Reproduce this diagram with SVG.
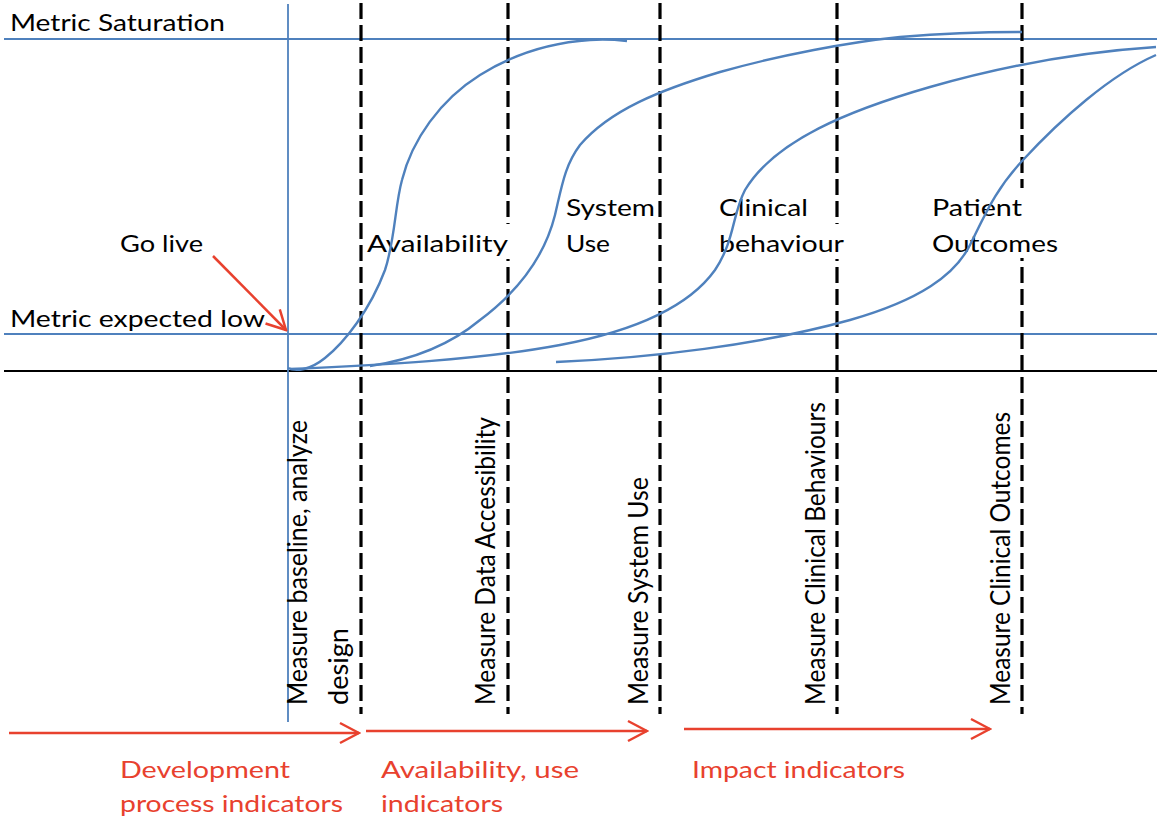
<svg xmlns="http://www.w3.org/2000/svg" width="1157" height="821" viewBox="0 0 1157 821">
  <style>
    .blue { stroke: #4F81BD; fill: none; stroke-width: 2.4; }
    .hline { stroke: #4F81BD; fill: none; stroke-width: 1.8; }
    .dash { stroke: #000; stroke-width: 3.2; stroke-dasharray: 16 6; fill: none; }
    .red { stroke: #E8412E; stroke-width: 2.5; fill: none; }
    .t { font-family: Lato, "Open Sans", "Liberation Sans", sans-serif; font-size: 24px; fill: #000; }
    .v { font-family: Lato, "Open Sans", "Liberation Sans", sans-serif; font-size: 27px; fill: #000; }
    .rt { font-family: Lato, "Open Sans", "Liberation Sans", sans-serif; font-size: 24px; fill: #E8412E; }
  </style>
  <defs>
    <marker id="arr" markerUnits="userSpaceOnUse" viewBox="-22 -12 24 24" refX="0" refY="0" markerWidth="24" markerHeight="24" orient="auto">
      <path d="M-19,-10 L0,0 L-19,10" fill="none" stroke="#E8412E" stroke-width="2.5"/>
    </marker>
  </defs>
  <rect width="1157" height="821" fill="#fff"/>

  <g id="axes">
    <line class="hline" x1="4" y1="39" x2="1157" y2="39"/>
    <line class="hline" x1="4" y1="334" x2="1157" y2="334"/>
    <line x1="4" y1="371" x2="1157" y2="371" stroke="#000" stroke-width="2.2"/>
    <line class="hline" x1="288" y1="4" x2="288" y2="722"/>
  </g>

  <g id="phase-lines">
    <line class="dash" x1="361" y1="3" x2="361" y2="714"/>
    <line class="dash" x1="508" y1="3" x2="508" y2="714"/>
    <line class="dash" x1="660" y1="3" x2="660" y2="714"/>
    <line class="dash" x1="837" y1="3" x2="837" y2="714"/>
    <line class="dash" x1="1022" y1="3" x2="1022" y2="714"/>
  </g>

  <g id="label-metric-saturation"><text class="t" x="10" y="31" textLength="215" lengthAdjust="spacingAndGlyphs">Metric Saturation</text></g>
  <g id="label-go-live"><text class="t" x="120" y="252" textLength="83" lengthAdjust="spacingAndGlyphs">Go live</text></g>
  <g id="label-metric-low"><text class="t" x="10" y="327" textLength="255" lengthAdjust="spacingAndGlyphs">Metric expected low</text></g>

  <g id="label-availability">
    <rect x="363" y="224" width="148" height="35" fill="#fff"/>
    <text class="t" x="367" y="252" textLength="141" lengthAdjust="spacingAndGlyphs">Availability</text>
  </g>
  <g id="label-system-use">
    <text class="t" x="566" y="216" textLength="89" lengthAdjust="spacingAndGlyphs">System</text>
    <text class="t" x="566" y="252" textLength="44" lengthAdjust="spacingAndGlyphs">Use</text>
  </g>
  <g id="label-clinical">
    <rect x="714" y="224" width="128" height="35" fill="#fff"/>
    <text class="t" x="719" y="216" textLength="89" lengthAdjust="spacingAndGlyphs">Clinical</text>
    <text class="t" x="719" y="252" textLength="125" lengthAdjust="spacingAndGlyphs">behaviour</text>
  </g>
  <g id="label-patient">
    <rect x="928" y="188" width="100" height="70" fill="#fff"/>
    <text class="t" x="932" y="216" textLength="90" lengthAdjust="spacingAndGlyphs">Patient</text>
    <text class="t" x="932" y="252" textLength="126" lengthAdjust="spacingAndGlyphs">Outcomes</text>
  </g>

  <g id="curves">
    <path class="blue" d="M288,368 C296,372 310,370 325,358 C345,342 370,310 385,270 C395,240 395,205 402,180 C412,140 440,100 480,75 C520,50 560,42 590,40 C605,39 618,40 627,41"/>
    <path class="blue" d="M370,366 C410,360 450,345 480,320 C520,290 545,255 555,215 C562,185 565,165 580,145 C610,110 660,90 720,72 C780,55 850,42 900,37 C950,33 990,32 1022,32"/>
    <path class="blue" d="M290,369 C380,365 480,360 560,345 C640,330 690,305 715,270 C735,240 732,215 745,190 C775,140 850,110 930,87 C1000,67 1080,52 1156,47"/>
    <path class="blue" d="M556,362 C650,358 760,345 850,320 C920,300 955,275 970,245 C985,215 995,190 1023,160 C1060,120 1110,75 1156,55"/>
  </g>

  <g id="measure-baseline">
    <text class="v" transform="translate(307,705) rotate(-90)" textLength="285" lengthAdjust="spacingAndGlyphs">Measure baseline, analyze</text>
    <text class="v" transform="translate(348,705) rotate(-90)" textLength="77" lengthAdjust="spacingAndGlyphs">design</text>
  </g>
  <g id="measure-data"><text class="v" transform="translate(495,705) rotate(-90)" textLength="288" lengthAdjust="spacingAndGlyphs">Measure Data Accessibility</text></g>
  <g id="measure-system"><text class="v" transform="translate(648,705) rotate(-90)" textLength="228" lengthAdjust="spacingAndGlyphs">Measure System Use</text></g>
  <g id="measure-behaviours"><text class="v" transform="translate(825,705) rotate(-90)" textLength="303" lengthAdjust="spacingAndGlyphs">Measure Clinical Behaviours</text></g>
  <g id="measure-outcomes"><text class="v" transform="translate(1010,705) rotate(-90)" textLength="293" lengthAdjust="spacingAndGlyphs">Measure Clinical Outcomes</text></g>

  <g id="connectors">
    <line class="red" x1="213" y1="256" x2="286" y2="330" marker-end="url(#arr)"/>
    <line class="red" x1="9" y1="733" x2="359" y2="733" marker-end="url(#arr)"/>
    <line class="red" x1="366" y1="731" x2="647" y2="731" marker-end="url(#arr)"/>
    <line class="red" x1="684" y1="729" x2="990" y2="729" marker-end="url(#arr)"/>
  </g>

  <g id="label-development">
    <text class="rt" x="120" y="778" textLength="170" lengthAdjust="spacingAndGlyphs">Development</text>
    <text class="rt" x="120" y="812" textLength="223" lengthAdjust="spacingAndGlyphs">process indicators</text>
  </g>
  <g id="label-availability-use">
    <text class="rt" x="381" y="778" textLength="198" lengthAdjust="spacingAndGlyphs">Availability, use</text>
    <text class="rt" x="381" y="812" textLength="122" lengthAdjust="spacingAndGlyphs">indicators</text>
  </g>
  <g id="label-impact">
    <text class="rt" x="692" y="778" textLength="213" lengthAdjust="spacingAndGlyphs">Impact indicators</text>
  </g>
</svg>
